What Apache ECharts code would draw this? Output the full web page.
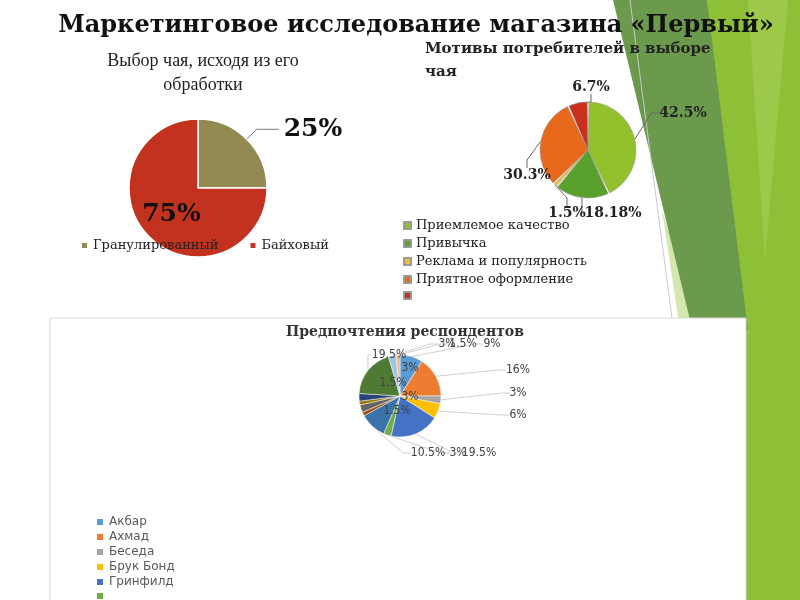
<!DOCTYPE html>
<html>
<head>
<meta charset="utf-8">
<script src="https://cdn.jsdelivr.net/npm/echarts@6/dist/echarts.min.js"></script>
<style>
  html, body { margin: 0; padding: 0; background: #fff; }
  #chart { width: 800px; height: 600px; }
</style>
</head>
<body>
<div id="chart"></div>
<script>
// chart 1: tea by processing
const treatCats = ['Гранулированный', 'Байховый']
const treatVals = [25, 75]
const treatColors = ['#938953', '#C3321E']

// chart 2: consumer motives
const motiveCats = ['Приемлемое качество', 'Привычка', 'Реклама и популярность', 'Приятное оформление', 'Цена']
const motiveVals = [42.5, 18.18, 1.5, 30.3, 6.7]
const motiveColors = ['#93C12C', '#5AA02C', '#F0C030', '#E8691C', '#C8301C']

// chart 3: respondents' preferences
const brandCats = ['Акбар', 'Ахмад', 'Беседа', 'Брук Бонд', 'Гринфилд', 'Дилмах', 'Канди',
  'Липтон', 'Лисма', 'Майский', 'Нури', 'Принцесса Нури', 'Тесс', 'Хайлис']
const brandVals = [9, 16, 3, 6, 19.5, 3, 10.5, 1.5, 3, 1.5, 3, 19.5, 3, 1.5]
const brandColors = ['#5B9BD5', '#ED7D31', '#A5A5A5', '#FFC000', '#4472C4', '#70AD47', '#3A72AC',
  '#9E480E', '#636363', '#997300', '#264478', '#4E7A33', '#9DC3E6', '#F4B183']

// where the data labels sit on the slide (the original file placed them by hand)
const motiveLabelPos = [[683, 113], [613, 213], [567, 213], [527, 175], [591, 87]]
const brandLabelPos = [[492, 344], [518, 370], [518, 393], [518, 415], [479, 453], [458, 453], [428, 453],
  [397, 411], [410, 397], [393, 383], [410, 368], [389, 355], [447, 344], [463, 344]]

const serif = 'DejaVu Serif'
const mychart = echarts.init(document.getElementById('chart'))

const treatData = treatCats.map((n, i) => ({
  name: n,
  value: treatVals[i],
  itemStyle: { color: treatColors[i] },
  label: i === 1 ? { position: 'inside' } : {}
}))

const motiveData = motiveCats.map((n, i) => ({
  name: n, value: motiveVals[i], itemStyle: { color: motiveColors[i] }
}))

const brandData = brandCats.map((n, i) => ({
  name: n, value: brandVals[i], itemStyle: { color: brandColors[i] }
}))

const placeLabel = pos => params => ({
  x: pos[params.dataIndex][0],
  y: pos[params.dataIndex][1],
  align: 'center',
  verticalAlign: 'middle'
})

const options = {
  animation: false,
  graphic: [
    // slide decoration on the right
    { type: 'polygon', z: 0, silent: true, shape: { points: [[707, 0], [800, 0], [800, 600], [746, 600]] }, style: { fill: '#8DBF37' } },
    { type: 'polygon', z: 0, silent: true, shape: { points: [[748, 0], [788, 0], [765, 260]] }, style: { fill: '#9CC94A' } },
    { type: 'polygon', z: 0, silent: true, shape: { points: [[662, 210], [700, 330], [680, 330]] }, style: { fill: '#D3E7AE' } },
    { type: 'polygon', z: 0, silent: true, shape: { points: [[613, 0], [707, 0], [748, 330], [690, 320]] }, style: { fill: '#6C9A4C' } },
    { type: 'line', z: 0, silent: true, shape: { x1: 630, y1: 0, x2: 672, y2: 318 }, style: { stroke: '#C8C8C8', lineWidth: 1 } },
    // white panel of the lower chart
    { type: 'rect', z: 1, silent: true, shape: { x: 50, y: 318, width: 696, height: 290 }, style: { fill: '#fff', stroke: '#D9D9D9', lineWidth: 1 } }
  ],
  title: [
    {
      text: 'Маркетинговое исследование магазина «Первый»',
      left: 411, top: 9, textAlign: 'center',
      textStyle: { fontFamily: serif, fontWeight: 'bold', fontSize: 24, color: '#111' }
    },
    {
      text: 'Выбор чая, исходя из его\nобработки',
      left: 198, top: 44, textAlign: 'center',
      textStyle: { fontFamily: 'Liberation Serif', fontWeight: 'normal', fontSize: 18, lineHeight: 24, color: '#222' }
    },
    {
      text: 'Мотивы потребителей в выборе\nчая',
      left: 420, top: 33, textAlign: 'left',
      textStyle: { fontFamily: serif, fontWeight: 'bold', fontSize: 15, lineHeight: 23, color: '#222' }
    },
    {
      text: 'Предпочтения респондентов',
      left: 400, top: 320, textAlign: 'center', z: 5,
      textStyle: { fontFamily: serif, fontWeight: 'bold', fontSize: 14, color: '#333' }
    }
  ],
  legend: [
    {
      data: treatCats, orient: 'horizontal', left: 75, top: 234, itemGap: 30,
      icon: 'rect', itemWidth: 7, itemHeight: 7,
      textStyle: { fontFamily: serif, fontSize: 13, color: '#222' }
    },
    {
      data: motiveCats, orient: 'vertical', left: 398, top: 214, itemGap: 5,
      icon: 'rect', itemWidth: 7, itemHeight: 7,
      formatter: name => (name === 'Цена' ? '' : name),
      textStyle: { fontFamily: serif, fontSize: 13, color: '#222' }
    },
    {
      // only the first five names were legible in the original legend
      data: brandCats, orient: 'vertical', left: 90, top: 511, height: 1000, itemGap: 3, z: 5,
      icon: 'rect', itemWidth: 8, itemHeight: 8,
      formatter: name => (brandCats.indexOf(name) < 5 ? name : ''),
      textStyle: { fontFamily: 'DejaVu Sans', fontSize: 12, color: '#595959' }
    }
  ],
  series: [
    {
      type: 'pie', center: [198, 188], radius: 69, startAngle: 90,
      data: treatData,
      itemStyle: { borderColor: '#fff', borderWidth: 1.5 },
      label: {
        formatter: p => p.value + '%',
        fontFamily: serif, fontWeight: 'bold', fontSize: 25, color: '#111'
      },
      labelLine: { length: 14, length2: 22, lineStyle: { color: '#777', width: 1 } }
    },
    {
      type: 'pie', center: [588, 150], radius: 48, startAngle: 90, padAngle: 2,
      data: motiveData,
      itemStyle: { borderColor: '#999', borderWidth: 0.6 },
      label: {
        formatter: p => p.value + '%',
        fontFamily: serif, fontWeight: 'bold', fontSize: 14, color: '#222'
      },
      labelLine: { length: 8, length2: 8, lineStyle: { color: '#666', width: 1 } },
      labelLayout: placeLabel(motiveLabelPos)
    },
    {
      type: 'pie', center: [400, 396], radius: 41, startAngle: 90, z: 5,
      data: brandData,
      itemStyle: { borderColor: '#fff', borderWidth: 0.5 },
      label: {
        formatter: p => p.value + '%',
        fontFamily: 'DejaVu Sans Condensed', fontSize: 12, color: '#404040'
      },
      labelLine: { length: 8, length2: 8, lineStyle: { color: '#D0D0D0', width: 1 } },
      labelLayout: placeLabel(brandLabelPos)
    }
  ]
}

mychart.setOption(options)
</script>
</body>
</html>
